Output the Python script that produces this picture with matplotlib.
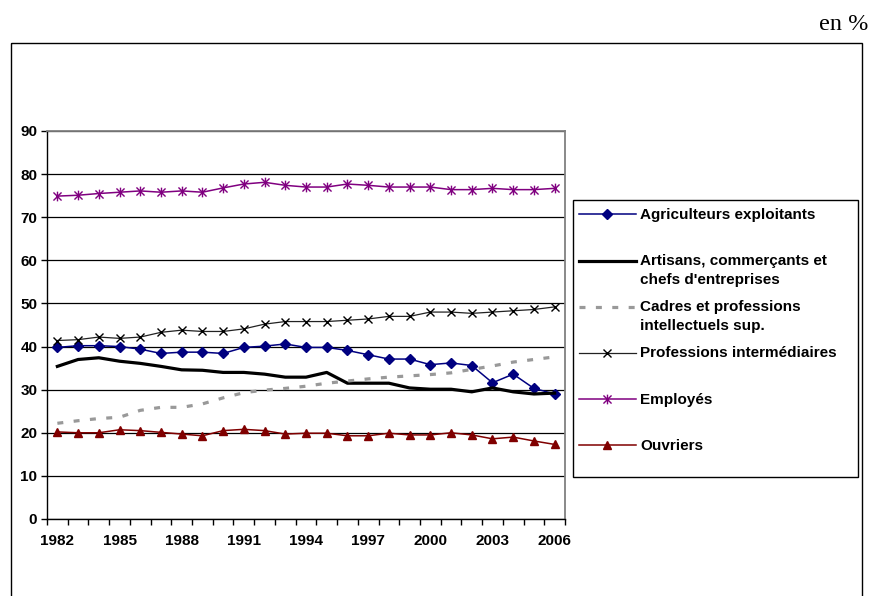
import matplotlib
matplotlib.use("Agg")
import matplotlib.pyplot as plt
from matplotlib.path import Path
from matplotlib.patches import Rectangle
from matplotlib.lines import Line2D

plt.rcParams['font.family'] = ['Liberation Sans', 'DejaVu Sans']
plt.rcParams['lines.scale_dashes'] = False

# ---- data -------------------------------------------------------------
years = list(range(1982, 2007))
tick_years = [1982, 1985, 1988, 1991, 1994, 1997, 2000, 2003, 2006]
y_ticks = [0, 10, 20, 30, 40, 50, 60, 70, 80, 90]

series_names = [
    "Agriculteurs exploitants",
    "Artisans, commerçants et\nchefs d'entreprises",
    "Cadres et professions\nintellectuels sup.",
    "Professions intermédiaires",
    "Employés",
    "Ouvriers",
]

agriculteurs = [39.8, 40.2, 40.2, 40.0, 39.4, 38.4, 38.7, 38.7, 38.4, 39.8,
                40.1, 40.6, 39.8, 39.8, 39.1, 38.1, 37.1, 37.1, 35.8, 36.2,
                35.6, 31.6, 33.6, 30.3, 29.0]
artisans = [35.4, 37.0, 37.4, 36.6, 36.1, 35.4, 34.6, 34.5, 34.0, 34.0,
            33.6, 32.9, 32.9, 34.0, 31.5, 31.5, 31.5, 30.4, 30.1, 30.1,
            29.5, 30.4, 29.5, 29.0, 29.2]
cadres = [22.2, 22.8, 23.3, 23.6, 25.2, 25.9, 25.9, 26.7, 28.1, 29.3,
          29.9, 30.3, 30.8, 31.5, 32.0, 32.5, 32.9, 33.2, 33.5, 33.9,
          34.7, 35.5, 36.4, 37.0, 37.6]
professions = [41.4, 41.6, 42.2, 41.9, 42.2, 43.3, 43.8, 43.5, 43.5, 44.1,
               45.2, 45.8, 45.8, 45.8, 46.1, 46.4, 47.0, 47.0, 48.0, 48.0,
               47.7, 48.0, 48.3, 48.6, 49.2]
employes = [74.9, 75.1, 75.5, 75.8, 76.1, 75.8, 76.1, 75.8, 76.8, 77.7,
            78.1, 77.4, 77.0, 77.0, 77.7, 77.4, 77.0, 77.0, 77.0, 76.4,
            76.4, 76.7, 76.4, 76.4, 76.7]
ouvriers = [20.2, 20.0, 20.0, 20.7, 20.5, 20.1, 19.7, 19.3, 20.5, 20.8,
            20.5, 19.7, 19.9, 19.9, 19.3, 19.3, 19.9, 19.5, 19.5, 20.0,
            19.5, 18.6, 19.0, 18.1, 17.3]

# asterisk marker: an X crossed by a vertical stroke
asterisk = Path([(-1, -1), (1, 1), (1, -1), (-1, 1), (0, -1.2), (0, 1.2)],
                [Path.MOVETO, Path.LINETO, Path.MOVETO, Path.LINETO,
                 Path.MOVETO, Path.LINETO])

styles = [
    dict(color='#000080', lw=1.1, marker='D', ms=4.6, mfc='#000080', mec='#000080'),
    dict(color='black', lw=2.3),
    dict(color='#999999', lw=2.3, dashes=(4.3, 7.5), dash_capstyle='butt'),
    dict(color='#222222', lw=0.9, marker='x', ms=6.3, mec='black', mew=1.0),
    dict(color='#800080', lw=1.1, marker=asterisk, ms=7.0, mec='#800080',
         mew=1.0, fillstyle='none'),
    dict(color='#800000', lw=1.1, marker='^', ms=6.2, mfc='#800000', mec='#800000'),
]
values = [agriculteurs, artisans, cadres, professions, employes, ouvriers]

FS = 11
W, H = 869, 596
fig = plt.figure(figsize=(W / 100, H / 100), dpi=100)
fig.patch.set_facecolor('white')

# plot area (pixel box 47..565 x 131..519)
ax = fig.add_axes([47 / W, 1 - 519 / H, (565 - 47) / W, (519 - 131) / H])
x = list(range(len(years)))
for vals, st in zip(values, styles):
    ax.plot(x, vals, **st, zorder=3)

ax.set_xlim(-0.5, len(years) - 0.5)
ax.set_ylim(0, 90)
ax.set_yticks(y_ticks)
ax.set_yticklabels([str(v) for v in y_ticks], fontsize=FS, fontweight='bold')
ax.tick_params(axis='y', length=4, width=1, direction='out', pad=3)

# category boundaries carry the tick marks, labels sit at the centres
ax.set_xticks([i - 0.5 for i in range(len(years) + 1)], minor=True)
ax.set_xticks([years.index(y) for y in tick_years])
ax.set_xticklabels([str(y) for y in tick_years], fontsize=FS, fontweight='bold')
ax.tick_params(axis='x', which='minor', length=4, width=1, direction='out')
ax.tick_params(axis='x', which='major', length=0, pad=11)

ax.grid(axis='y', color='black', lw=0.9)
ax.set_axisbelow(True)
for s in ('top', 'right'):
    ax.spines[s].set_color('#808080')
    ax.spines[s].set_linewidth(1.3)
for s in ('left', 'bottom'):
    ax.spines[s].set_color('black')
    ax.spines[s].set_linewidth(1.0)

# overlay in pixel coordinates for the frame, legend and unit note
ov = fig.add_axes([0, 0, 1, 1], zorder=5)
ov.set_xlim(0, W)
ov.set_ylim(H, 0)
ov.axis('off')
ov.patch.set_alpha(0)

ov.add_patch(Rectangle((10.5, 42.5), 851, 600, fill=False, ec='black', lw=1.0))
ov.text(868, 30, "en %", family=['Liberation Serif', 'DejaVu Serif'],
        fontsize=17.5, ha='right', va='baseline')

ov.add_patch(Rectangle((573, 200), 285, 277, fill=False, ec='black', lw=1.0))
handle_y = [214, 260.7, 306.7, 352.7, 399.3, 445]
for name, st, hy in zip(series_names, styles, handle_y):
    line_st = {k: v for k, v in st.items()
               if k in ('color', 'lw', 'dashes', 'dash_capstyle')}
    ov.add_line(Line2D([579, 636], [hy, hy], **line_st))
    mk = {k: v for k, v in st.items()
          if k in ('marker', 'ms', 'mfc', 'mec', 'mew', 'fillstyle')}
    if mk:
        ov.add_line(Line2D([607], [hy], linestyle='none', **mk))
    for j, part in enumerate(name.split("\n")):
        ov.text(640, hy + 4.6 + j * 18.5, part, fontsize=FS,
                fontweight='bold', ha='left', va='baseline')

fig.savefig("out.png", dpi=100)
